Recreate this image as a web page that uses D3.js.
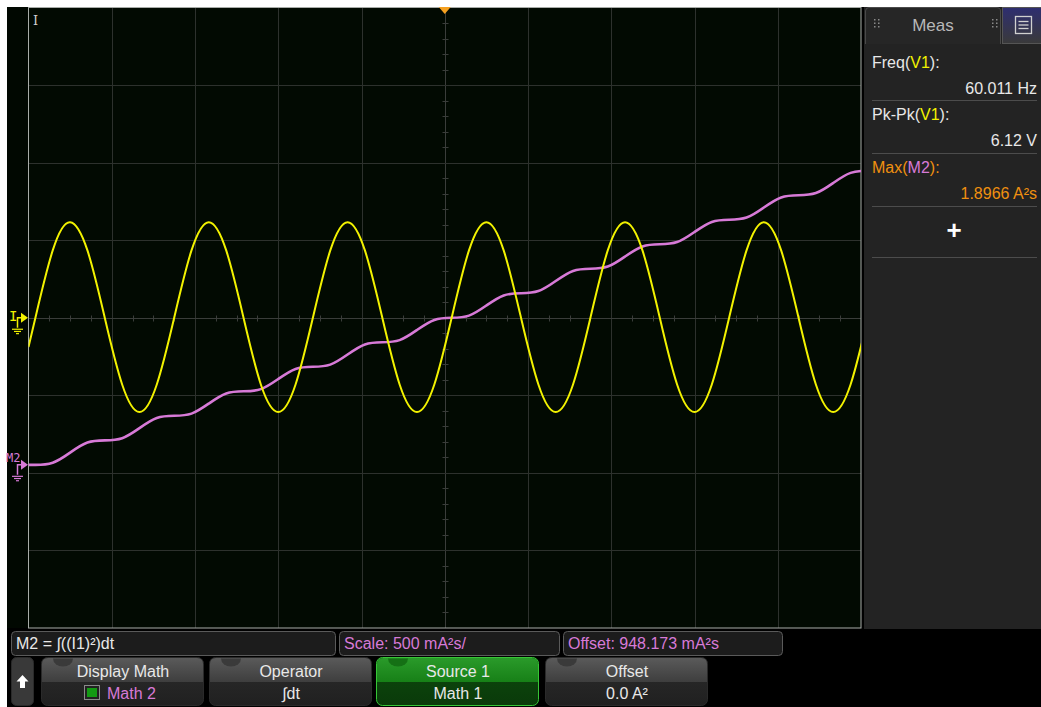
<!DOCTYPE html>
<html lang="en">
<head>
<meta charset="UTF-8">
<title>Scope - integral of I squared</title>
<script src="https://d3js.org/d3.v7.min.js"></script>
<style>
  body { margin:0; background:#fff; }
  svg { display:block; font-family:"Liberation Sans", Arial, sans-serif; }
</style>
</head>
<body>
<svg id="scope" width="1041" height="707"></svg>
<script>
// sample times in ms (1/8 of a 60 Hz period apart)
var times = [-50, -49.17, -47.09, -45.00, -42.92, -40.84, -38.75, -36.67, -34.59, -32.50,
  -30.42, -28.34, -26.25, -24.17, -22.09, -20.00, -17.92, -15.84, -13.75, -11.67,
  -9.59, -7.50, -5.42, -3.34, -1.25, 0.83, 2.91, 5.00, 7.08, 9.16,
  11.25, 13.33, 15.41, 17.50, 19.58, 21.66, 23.75, 25.83, 27.91, 30.00,
  32.08, 34.16, 36.25, 38.33, 40.41, 42.50, 44.58, 46.66, 48.75, 50.83];

// channel I (yellow), volts
var chanI = [-0.94, 0, 2.17, 3.08, 2.17, 0, -2.15, -3.04, -2.15,
  0, 2.17, 3.08, 2.17, 0, -2.15, -3.04, -2.15,
  0, 2.17, 3.08, 2.17, 0, -2.15, -3.04, -2.15,
  0, 2.17, 3.08, 2.17, 0, -2.15, -3.04, -2.15,
  0, 2.17, 3.08, 2.17, 0, -2.15, -3.04, -2.15,
  0, 2.17, 3.08, 2.17, 0, -2.15, -3.04, -2.15, 0];

// math M2 = integral of I^2 (pink), A²s
var mathM2 = [0, 0.000, 0.014, 0.079, 0.144, 0.158, 0.172, 0.237, 0.302, 0.316,
  0.330, 0.395, 0.460, 0.474, 0.488, 0.553, 0.618, 0.632, 0.646, 0.711,
  0.776, 0.790, 0.804, 0.869, 0.934, 0.948, 0.962, 1.027, 1.092, 1.106,
  1.120, 1.185, 1.250, 1.264, 1.278, 1.343, 1.408, 1.422, 1.436, 1.501,
  1.566, 1.580, 1.594, 1.659, 1.724, 1.738, 1.752, 1.817, 1.882, 1.896];

var xDivs = [-40, -30, -20, -10, 0, 10, 20, 30, 40];       // 10 ms/div
var yDivs = [-7.5, -5, -2.5, 0, 2.5, 5, 7.5];              // 2.5 V/div
var m2Offset = 0.948173, m2Scale = 0.5;                     // A²s, A²s/div

var measLabels = [["Freq(", "V1", "):"], ["Pk-Pk(", "V1", "):"], ["Max(", "M2", "):"]];
var measValues = ["60.011 Hz", "6.12 V", "1.8966 A\u00b2s"];

var svg = d3.select("#scope");
var W = 1041, H = 707;
var L = 28.5, R = 861, T = 7.5, B = 628;

var x = d3.scaleLinear().domain([-50, 50]).range([L, R]);
var yI = d3.scaleLinear().domain([-10, 10]).range([B, T]);
var yM = d3.scaleLinear().domain([m2Offset - 4 * m2Scale, m2Offset + 4 * m2Scale]).range([B, T]);

var defs = svg.append("defs");
defs.append("clipPath").attr("id", "plotclip")
  .append("rect").attr("x", L).attr("y", T).attr("width", R - L).attr("height", B - T);

function grad(id, c1, c2) {
  var g = defs.append("linearGradient").attr("id", id)
    .attr("x1", 0).attr("y1", 0).attr("x2", 0).attr("y2", 1);
  g.append("stop").attr("offset", "0%").attr("stop-color", c1);
  g.append("stop").attr("offset", "100%").attr("stop-color", c2);
}
grad("btnTop", "#5a5a5a", "#3e3e3e");
grad("btnBot", "#2c2c2c", "#202020");
grad("grnTop", "#2a9a2a", "#178017");
grad("grnBot", "#0d4a0d", "#0a3a0a");
grad("tabBlue", "#2e2e70", "#3a3a3a");

// background
svg.append("rect").attr("width", W).attr("height", H).attr("fill", "#fff");
svg.append("rect").attr("x", 7).attr("y", 7).attr("width", W - 7).attr("height", H - 7).attr("fill", "#000");
svg.append("rect").attr("x", 7).attr("y", 7).attr("width", L - 7).attr("height", B - 7).attr("fill", "#010801");
svg.append("rect").attr("x", L).attr("y", T).attr("width", R - L).attr("height", B - T).attr("fill", "#020a02");

// grid
var grid = svg.append("g");
grid.selectAll(".vx").data(xDivs).enter().append("line")
  .attr("x1", function(d){ return Math.round(x(d)) + 0.5; })
  .attr("x2", function(d){ return Math.round(x(d)) + 0.5; })
  .attr("y1", T).attr("y2", B)
  .attr("stroke", function(d){ return d === 0 ? "#3a3d3a" : "#2d312d"; }).attr("stroke-width", 1);
grid.selectAll(".hy").data(yDivs).enter().append("line")
  .attr("y1", function(d){ return Math.round(yI(d)) + 0.5; })
  .attr("y2", function(d){ return Math.round(yI(d)) + 0.5; })
  .attr("x1", L).attr("x2", R)
  .attr("stroke", function(d){ return d === 0 ? "#3a3d3a" : "#2d312d"; }).attr("stroke-width", 1);

// minor ticks on the centre axes (4 per div across, 5 per div up)
var xMinor = d3.range(-47.5, 48, 2.5).filter(function(d){ return d % 10 !== 0; });
var yMinor = d3.range(-9.5, 10, 0.5).filter(function(d){ return Math.abs(d % 2.5) > 0.01; });
var cy = Math.round(yI(0)) + 0.5, cx = Math.round(x(0)) + 0.5;
grid.selectAll(".mx").data(xMinor).enter().append("line")
  .attr("x1", function(d){ return Math.round(x(d)) + 0.5; })
  .attr("x2", function(d){ return Math.round(x(d)) + 0.5; })
  .attr("y1", cy - 3).attr("y2", cy + 3).attr("stroke", "#3a3d3a");
grid.selectAll(".my").data(yMinor).enter().append("line")
  .attr("y1", function(d){ return Math.round(yI(d)) + 0.5; })
  .attr("y2", function(d){ return Math.round(yI(d)) + 0.5; })
  .attr("x1", cx - 3).attr("x2", cx + 3).attr("stroke", "#3a3d3a");

// plot border
svg.append("rect").attr("x", L).attr("y", T).attr("width", R - L).attr("height", B - T)
  .attr("fill", "none").attr("stroke", "#a8aca8").attr("stroke-width", 1);

// traces
var traces = svg.append("g").attr("clip-path", "url(#plotclip)");
traces.append("path")
  .datum(times.map(function(t, i){ return [t, mathM2[i]]; }))
  .attr("d", d3.line().x(function(d){ return x(d[0]); }).y(function(d){ return yM(d[1]); }).curve(d3.curveNatural))
  .attr("fill", "none").attr("stroke", "#d77ad7").attr("stroke-width", 2.6);
traces.append("path")
  .datum(times.map(function(t, i){ return [t, chanI[i]]; }))
  .attr("d", d3.line().x(function(d){ return x(d[0]); }).y(function(d){ return yI(d[1]); }).curve(d3.curveNatural))
  .attr("fill", "none").attr("stroke", "#f2f200").attr("stroke-width", 2);

// "I" label at the top left of the grid
svg.append("text").attr("x", 33).attr("y", 25).attr("fill", "#d0d0d0")
  .attr("font-family", "DejaVu Serif, serif").attr("font-size", 13).text("I");

// trigger marker
svg.append("path")
  .attr("d", "M" + (x(0) - 6) + "," + 7 + "L" + (x(0) + 6) + "," + 7 + "L" + x(0) + "," + 14 + "Z")
  .attr("fill", "#f5a020");

// channel ground markers
function marker(label, yPos, col, small) {
  var g = svg.append("g");
  g.append("text").attr("x", small ? 6 : 9).attr("y", yPos - (small ? 3 : -3))
    .attr("fill", col).attr("font-size", small ? 12 : 14)
    .attr("font-family", "DejaVu Sans Mono, monospace").text(label);
  g.append("path").attr("d", "M17.5," + (yPos + 10) + "V" + yPos + "H22")
    .attr("fill", "none").attr("stroke", col).attr("stroke-width", 1.5);
  g.append("path").attr("d", "M21," + (yPos - 5) + "L28," + yPos + "L21," + (yPos + 5) + "Z").attr("fill", col);
  [[12, 23], [14, 21], [16, 19]].forEach(function(s, i) {
    g.append("line").attr("x1", s[0]).attr("x2", s[1])
      .attr("y1", yPos + 11.5 + i * 2.2).attr("y2", yPos + 11.5 + i * 2.2)
      .attr("stroke", col).attr("stroke-width", 1.2);
  });
}
marker("I", yI(0), "#f2f200", false);
marker("M2", yM(0), "#d77ad7", true);

// right measurement panel
var panel = svg.append("g");
panel.append("rect").attr("x", 864).attr("y", 7).attr("width", W - 864).attr("height", 622).attr("fill", "#232323");
panel.append("path").attr("d", "M865.5,44V11Q865.5,7.5 869,7.5H996Q1000.5,7.5 1000.5,11V44")
  .attr("fill", "#262626").attr("stroke", "#4a4a4a");
panel.append("rect").attr("x", 1002.5).attr("y", 7.5).attr("width", 39).attr("height", 36)
  .attr("fill", "url(#tabBlue)").attr("stroke", "#555");
panel.append("rect").attr("x", 1015.5).attr("y", 16.5).attr("width", 16).attr("height", 17)
  .attr("fill", "none").attr("stroke", "#d0d0d0").attr("stroke-width", 1.3);
[21.5, 25, 28.5].forEach(function(yy) {
  panel.append("line").attr("x1", 1018.5).attr("x2", 1028.5).attr("y1", yy).attr("y2", yy)
    .attr("stroke", "#d0d0d0").attr("stroke-width", 1.3);
});
panel.append("text").attr("x", 933).attr("y", 31).attr("text-anchor", "middle")
  .attr("fill", "#b8b8b8").attr("font-size", 17).text("Meas");
[874, 992].forEach(function(gx) {
  [0, 1].forEach(function(c) {
    [0, 1, 2].forEach(function(r) {
      panel.append("rect").attr("x", gx + c * 4).attr("y", 19 + r * 3.5)
        .attr("width", 1.5).attr("height", 1.5).attr("fill", "#8a8a8a");
    });
  });
});

var rowY = [68, 120, 173];
var sepY = [100.5, 153.5, 206.5, 257.5];
measLabels.forEach(function(lb, i) {
  var base = i === 2 ? "#f09010" : "#e8e8e8";
  var chCol = i === 2 ? "#d77ad7" : "#f2f200";
  var t = panel.append("text").attr("x", 872).attr("y", rowY[i]).attr("font-size", 16);
  t.append("tspan").attr("fill", base).text(lb[0]);
  t.append("tspan").attr("fill", chCol).text(lb[1]);
  t.append("tspan").attr("fill", base).text(lb[2]);
  panel.append("text").attr("x", 1037).attr("y", rowY[i] + 26).attr("text-anchor", "end")
    .attr("font-size", 16).attr("fill", base).text(measValues[i]);
});
sepY.forEach(function(s) {
  panel.append("line").attr("x1", 872).attr("x2", 1037).attr("y1", s).attr("y2", s)
    .attr("stroke", "#4c4c4c");
});
panel.append("text").attr("x", 954).attr("y", 239).attr("text-anchor", "middle")
  .attr("fill", "#fff").attr("font-size", 26).attr("font-weight", "bold").text("+");

// status boxes
var statusBoxes = [
  { x: 11, w: 324, text: "M2 = \u222b((I1)\u00b2)dt", col: "#e8e8e8" },
  { x: 339, w: 220, text: "Scale: 500 mA\u00b2s/", col: "#d77ad7" },
  { x: 563, w: 219, text: "Offset: 948.173 mA\u00b2s", col: "#d77ad7" }
];
statusBoxes.forEach(function(s) {
  svg.append("rect").attr("x", s.x + 0.5).attr("y", 631.5).attr("width", s.w).attr("height", 24)
    .attr("rx", 4).attr("fill", "#1c1c1c").attr("stroke", "#5a5a5a");
  svg.append("text").attr("x", s.x + 5).attr("y", 649).attr("font-size", 16)
    .attr("fill", s.col).text(s.text);
});

// soft-key buttons
svg.append("rect").attr("x", 11.5).attr("y", 657.5).attr("width", 22).attr("height", 48)
  .attr("rx", 5).attr("fill", "#393939").attr("stroke", "#2a2a2a");
svg.append("path").attr("d", "M22.5,675L16.5,681.5H20V688H25V681.5H28.5Z").attr("fill", "#fff");

var buttons = [
  { x: 41, label: "Display Math", value: "Math 2", vcol: "#d77ad7", box: true },
  { x: 209, label: "Operator", value: "\u222bdt", vcol: "#e8e8e8" },
  { x: 376, label: "Source 1", value: "Math 1", vcol: "#e8e8e8", green: true },
  { x: 545, label: "Offset", value: "0.0 A\u00b2", vcol: "#e8e8e8" }
];
var bw = 162;
buttons.forEach(function(b) {
  var g = svg.append("g");
  var top = b.green ? "url(#grnTop)" : "url(#btnTop)";
  var bot = b.green ? "url(#grnBot)" : "url(#btnBot)";
  g.append("rect").attr("x", b.x + 0.5).attr("y", 657.5).attr("width", bw).attr("height", 48)
    .attr("rx", 6).attr("fill", bot).attr("stroke", b.green ? "#36c636" : "#2a2a2a");
  g.append("path")
    .attr("d", "M" + (b.x + 1) + ",682V664Q" + (b.x + 1) + ",658 " + (b.x + 7) + ",658H" + (b.x + bw - 6) +
      "Q" + (b.x + bw) + ",658 " + (b.x + bw) + ",664V682Z")
    .attr("fill", top);
  g.append("path")
    .attr("d", "M" + (b.x + 12) + ",658.5A10,8 0 0 0 " + (b.x + 32) + ",658.5Z")
    .attr("fill", b.green ? "#157015" : "#3a3a3a");
  g.append("text").attr("x", b.x + bw / 2 + 1).attr("y", 677).attr("text-anchor", "middle")
    .attr("font-size", 16).attr("fill", "#e8e8e8").text(b.label);
  var vx = b.x + bw / 2 + 1;
  if (b.box) {
    g.append("rect").attr("x", 84.5).attr("y", 685.5).attr("width", 15).attr("height", 14)
      .attr("fill", "#222").attr("stroke", "#8a8a8a");
    g.append("rect").attr("x", 87).attr("y", 688).attr("width", 10).attr("height", 9).attr("fill", "#139a13");
    g.append("text").attr("x", 107).attr("y", 699).attr("font-size", 16).attr("fill", b.vcol).text(b.value);
  } else {
    g.append("text").attr("x", vx).attr("y", 699).attr("text-anchor", "middle")
      .attr("font-size", 16).attr("fill", b.vcol).text(b.value);
  }
});
</script>
</body>
</html>
